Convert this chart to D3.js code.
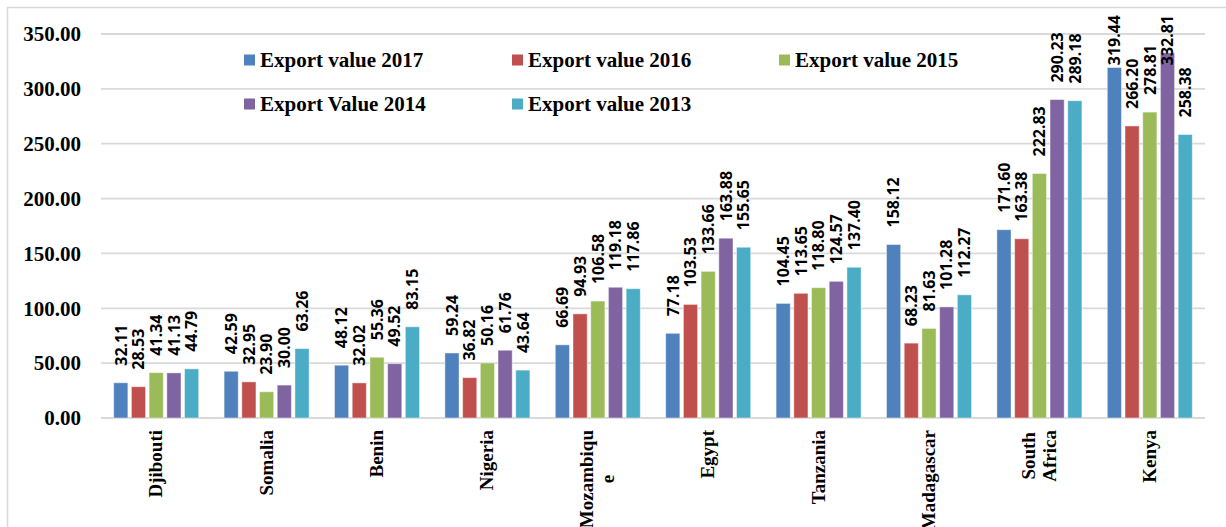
<!DOCTYPE html>
<html>
<head>
  <meta charset="utf-8" />
  <title>Export value by country</title>
  <script src="https://cdnjs.cloudflare.com/ajax/libs/d3/7.8.5/d3.min.js"></script>
  <style>
    body { margin: 0; background: #fff; }
    svg { display: block; }
    .tick-label, .cat-label, .legend-label { font-family: "Liberation Serif", "Times New Roman", serif; font-weight: bold; fill: #000; }
    .val-label { font-family: "Noto Sans", sans-serif; font-weight: bold; font-size: 16px; fill: #000; }
  </style>
</head>
<body>
<div id="chart"></div>
<script>
  // data
  var countries = ["Djibouti", "Somalia", "Benin", "Nigeria", "Mozambique", "Egypt", "Tanzania", "Madagascar", "South Africa", "Kenya"];
  // how the axis wraps the names
  var countryLines = [["Djibouti"], ["Somalia"], ["Benin"], ["Nigeria"], ["Mozambiqu", "e"], ["Egypt"], ["Tanzania"], ["Madagascar"], ["South", "Africa"], ["Kenya"]];

  var seriesNames = ["Export value 2017", "Export value 2016", "Export value 2015", "Export Value 2014", "Export value 2013"];
  var value2017 = [32.11, 42.59, 48.12, 59.24, 66.69, 77.18, 104.45, 158.12, 171.60, 319.44];
  var value2016 = [28.53, 32.95, 32.02, 36.82, 94.93, 103.53, 113.65, 68.23, 163.38, 266.20];
  var value2015 = [41.34, 23.90, 55.36, 50.16, 106.58, 133.66, 118.80, 81.63, 222.83, 278.81];
  var value2014 = [41.13, 30.00, 49.52, 61.76, 119.18, 163.88, 124.57, 101.28, 290.23, 332.81];
  var value2013 = [44.79, 63.26, 83.15, 43.64, 117.86, 155.65, 137.40, 112.27, 289.18, 258.38];
  var yTicks = [0, 50, 100, 150, 200, 250, 300, 350];

  var colors = ["#4F81BD", "#C0504D", "#9BBB59", "#8064A2", "#4BACC6"];
  var allValues = [value2017, value2016, value2015, value2014, value2013];

  var width = 1226, height = 527;
  var plotLeft = 101, plotRight = 1205, plotTop = 34, plotBottom = 418;

  var svg = d3.select("#chart").append("svg")
    .attr("width", width)
    .attr("height", height);

  // outer frame (runs off the right and bottom)
  svg.append("rect")
    .attr("x", 7.5).attr("y", 7.5)
    .attr("width", 1240).attr("height", 540)
    .attr("fill", "none")
    .attr("stroke", "#d9d9d9")
    .attr("stroke-width", 1.5);

  var x0 = d3.scaleBand().domain(countries).range([plotLeft, plotRight])
    .paddingInner(0.23).paddingOuter(0.115);
  var x1 = d3.scaleBand().domain(d3.range(seriesNames.length)).range([0, x0.bandwidth()])
    .paddingInner(0.2);
  var y = d3.scaleLinear().domain([0, 350]).range([plotBottom, plotTop]);

  // gridlines
  svg.append("g")
    .selectAll("line")
    .data(yTicks)
    .enter().append("line")
    .attr("x1", plotLeft).attr("x2", plotRight)
    .attr("y1", d => y(d)).attr("y2", d => y(d))
    .attr("stroke", "#d9d9d9")
    .attr("stroke-width", 1.8);

  // y tick labels
  svg.append("g")
    .selectAll("text")
    .data(yTicks)
    .enter().append("text")
    .attr("class", "tick-label")
    .attr("x", 81)
    .attr("y", d => y(d))
    .attr("dy", "0.35em")
    .attr("text-anchor", "end")
    .style("font-size", "21px")
    .text(d => d3.format(".2f")(d));

  // bars
  var groups = svg.append("g")
    .selectAll("g")
    .data(countries)
    .enter().append("g")
    .attr("transform", d => "translate(" + x0(d) + ",0)");

  groups.selectAll("rect")
    .data((d, i) => allValues.map((s, k) => ({ k: k, v: s[i] })))
    .enter().append("rect")
    .attr("x", d => x1(d.k))
    .attr("width", x1.bandwidth())
    .attr("y", d => y(d.v))
    .attr("height", d => y(0) - y(d.v))
    .attr("fill", d => colors[d.k])
    .attr("stroke", "#fff")
    .attr("stroke-opacity", 0.45)
    .attr("stroke-width", 1);

  // value labels, rotated, clamped at the top of the chart
  groups.selectAll("text")
    .data((d, i) => allValues.map((s, k) => ({ k: k, v: s[i] })))
    .enter().append("text")
    .attr("class", "val-label")
    .attr("dy", "0.36em")
    .text(d => d.v.toFixed(2))
    .each(function(d) {
      var len = this.getComputedTextLength();
      var cx = x1(d.k) + x1.bandwidth() / 2;
      var yy = Math.max(y(d.v) - 17, 15 + len);
      d3.select(this).attr("transform", "translate(" + cx + "," + yy + ") rotate(-90)");
    });

  // category labels
  var cats = svg.append("g")
    .selectAll("g")
    .data(countries)
    .enter().append("g");

  cats.each(function(name, i) {
    var g = d3.select(this);
    var lines = countryLines[i];
    var lh = 21;
    var texts = lines.map(function(line, j) {
      return g.append("text")
        .attr("class", "cat-label")
        .style("font-size", "19px")
        .attr("text-anchor", "middle")
        .attr("dy", "0.32em")
        .attr("y", (j - (lines.length - 1) / 2) * lh)
        .text(line);
    });
    var maxLen = d3.max(texts, t => t.node().getComputedTextLength());
    var cx = x0(name) + x0.bandwidth() / 2;
    g.attr("transform", "translate(" + cx + "," + (430 + maxLen / 2) + ") rotate(-90)");
  });

  // legend
  var legendX = [244, 512, 779];
  var legendY = [60, 104];
  var legend = svg.append("g")
    .selectAll("g")
    .data(seriesNames)
    .enter().append("g")
    .attr("transform", (d, i) => "translate(" + legendX[i % 3] + "," + legendY[Math.floor(i / 3)] + ")");

  legend.append("rect")
    .attr("x", 0).attr("y", -5.5)
    .attr("width", 11).attr("height", 11)
    .attr("fill", (d, i) => colors[i]);

  legend.append("text")
    .attr("class", "legend-label")
    .attr("x", 16)
    .attr("dy", "0.33em")
    .style("font-size", "21px")
    .text(d => d);
</script>
</body>
</html>
